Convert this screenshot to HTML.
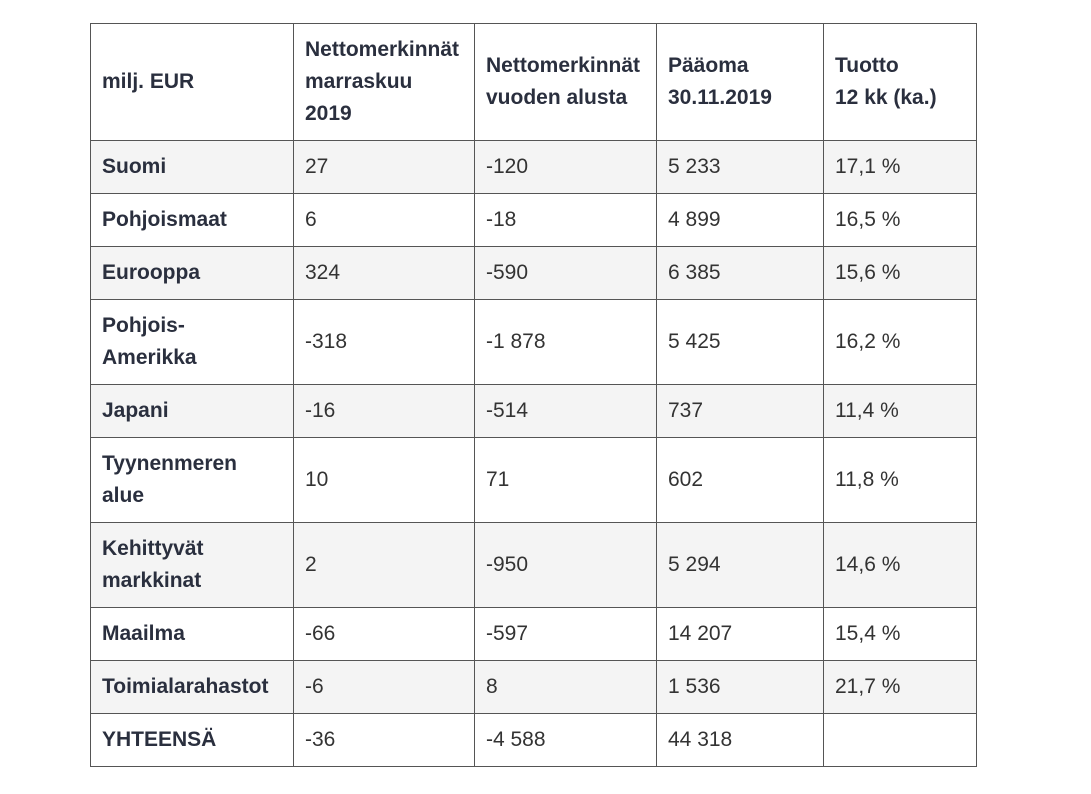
<!DOCTYPE html>
<html><head><meta charset="utf-8"><style>
body{margin:0;background:#fff;width:1091px;height:794px;overflow:hidden;font-family:"Liberation Sans",Arial,sans-serif}
table{position:absolute;left:90px;top:23px;border-collapse:collapse;table-layout:fixed}
td{border:1px solid #555;padding:0 11px;font-size:21px;line-height:32px;color:#333;vertical-align:middle;white-space:nowrap}
td:first-child,tr.h td{font-weight:bold;color:#2a2f3e}
tr.g td{background:#f4f4f4}
</style></head><body>
<table>
<colgroup><col style="width:203px"><col style="width:181px"><col style="width:182px"><col style="width:167px"><col style="width:153px"></colgroup>
<tr class="h" style="height:117px"><td>milj. EUR</td><td>Nettomerkinnät<br>marraskuu<br>2019</td><td>Nettomerkinnät<br>vuoden alusta</td><td>Pääoma<br>30.11.2019</td><td>Tuotto<br>12 kk (ka.)</td></tr>
<tr class="g" style="height:53px"><td>Suomi</td><td>27</td><td>-120</td><td>5 233</td><td>17,1 %</td></tr>
<tr style="height:53px"><td>Pohjoismaat</td><td>6</td><td>-18</td><td>4 899</td><td>16,5 %</td></tr>
<tr class="g" style="height:53px"><td>Eurooppa</td><td>324</td><td>-590</td><td>6 385</td><td>15,6 %</td></tr>
<tr style="height:85px"><td>Pohjois-<br>Amerikka</td><td>-318</td><td>-1 878</td><td>5 425</td><td>16,2 %</td></tr>
<tr class="g" style="height:53px"><td>Japani</td><td>-16</td><td>-514</td><td>737</td><td>11,4 %</td></tr>
<tr style="height:85px"><td>Tyynenmeren<br>alue</td><td>10</td><td>71</td><td>602</td><td>11,8 %</td></tr>
<tr class="g" style="height:85px"><td>Kehittyvät<br>markkinat</td><td>2</td><td>-950</td><td>5 294</td><td>14,6 %</td></tr>
<tr style="height:53px"><td>Maailma</td><td>-66</td><td>-597</td><td>14 207</td><td>15,4 %</td></tr>
<tr class="g" style="height:53px"><td>Toimialarahastot</td><td>-6</td><td>8</td><td>1 536</td><td>21,7 %</td></tr>
<tr style="height:53px"><td>YHTEENSÄ</td><td>-36</td><td>-4 588</td><td>44 318</td><td></td></tr>
</table>
</body></html>
